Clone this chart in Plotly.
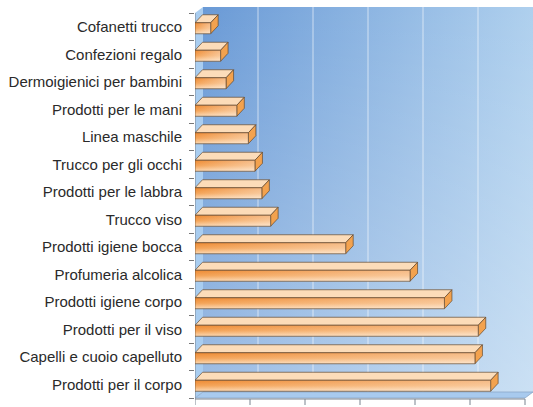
import plotly.graph_objects as go

categories = [
    "Cofanetti trucco", "Confezioni regalo", "Dermoigienici per bambini",
    "Prodotti per le mani", "Linea maschile", "Trucco per gli occhi",
    "Prodotti per le labbra", "Trucco viso", "Prodotti igiene bocca",
    "Profumeria alcolica", "Prodotti igiene corpo", "Prodotti per il viso",
    "Capelli e cuoio capelluto", "Prodotti per il corpo",
]
values = [0.57, 0.93, 1.13, 1.52, 1.94, 2.18, 2.43, 2.75, 5.48, 7.82, 9.07, 10.30, 10.18, 10.75]
x_ticks = [0, 2, 4, 6, 8, 10, 12]

PX = 27.5                      # pixels per data unit (both axes)
wdx, wdy = 8 / PX, 6 / PX      # wall depth
bdx, bdy = 7.5 / PX, 8 / PX    # bar depth
ftop, fbot = -4 / PX, 7 / PX   # front face extent around category centre
n = len(categories)
xmax = x_ticks[-1]
ytop, ybot = -0.5, n - 0.5

fig = go.Figure()

# back wall (gradient)
wall_x = [wdx, xmax + wdx, xmax + wdx, wdx, wdx]
wall_y = [ytop - wdy, ytop - wdy, ybot - wdy, ybot - wdy, ytop - wdy]
fig.add_trace(go.Scatter(x=wall_x, y=wall_y, mode="lines", fill="toself",
                         line=dict(width=0),
                         fillgradient=dict(type="horizontal",
                                           colorscale=[[0, "#6a9ad6"], [1, "#afd0ee"]])))
fig.add_trace(go.Scatter(x=wall_x, y=wall_y, mode="lines", fill="toself",
                         line=dict(width=0),
                         fillgradient=dict(type="vertical", start=ytop - wdy, stop=ybot - wdy,
                                           colorscale=[[0, "rgba(255,255,255,0)"],
                                                       [1, "rgba(255,255,255,0.35)"]])))
# gridlines on back wall
gx, gy = [], []
for t in x_ticks[1:-1]:
    gx += [t + wdx, t + wdx, None]
    gy += [ytop - wdy, ybot - wdy, None]
fig.add_trace(go.Scatter(x=gx, y=gy, mode="lines",
                         line=dict(color="rgba(255,255,255,0.6)", width=1)))
# left wall
fig.add_trace(go.Scatter(x=[0, wdx, wdx, 0, 0], y=[ytop, ytop - wdy, ybot - wdy, ybot, ytop],
                         mode="lines", fill="toself", fillcolor="#a9cdf0",
                         line=dict(width=0)))
# floor
fig.add_trace(go.Scatter(x=[0, xmax, xmax + wdx, wdx, 0],
                         y=[ybot, ybot, ybot - wdy, ybot - wdy, ybot],
                         mode="lines", fill="toself", fillcolor="#a8caee",
                         line=dict(color="#8aa7c8", width=0.8)))
# axis lines and bottom ticks
ax_x, ax_y = [0, 0, xmax, None], [ytop, ybot + 1 / PX, ybot + 1 / PX, None]
for t in x_ticks:
    ax_x += [t, t, None]
    ax_y += [ybot + 1 / PX, ybot + 7 / PX, None]
fig.add_trace(go.Scatter(x=ax_x, y=ax_y, mode="lines", line=dict(color="#7a8490", width=1)))

edge = dict(color="rgba(95,70,45,0.85)", width=0.8)
for i, v in enumerate(values):
    c = i
    t, b = c + ftop, c + fbot
    # top face
    fig.add_trace(go.Scatter(x=[0, v, v + bdx, bdx, 0], y=[t, t, t - bdy, t - bdy, t],
                             mode="lines", fill="toself", fillcolor="#fcdcb9", line=edge))
    # side face
    fig.add_trace(go.Scatter(x=[v, v + bdx, v + bdx, v, v], y=[t, t - bdy, b - bdy, b, t],
                             mode="lines", fill="toself", fillcolor="#f3a24e", line=edge))
    # front face
    fig.add_trace(go.Scatter(x=[0, v, v, 0, 0], y=[t, t, b, b, t],
                             mode="lines", fill="toself", line=dict(width=0),
                             fillgradient=dict(type="vertical", start=t, stop=b,
                                               colorscale=[[0, "#ee8a32"], [0.5, "#f4a458"],
                                                           [1, "#fcd8b2"]])))
    # horizontal light overlay (paler toward the right end)
    fig.add_trace(go.Scatter(x=[0, v, v, 0, 0], y=[t, t, b, b, t],
                             mode="lines", fill="toself", line=edge,
                             fillgradient=dict(type="horizontal", start=0, stop=v,
                                               colorscale=[[0, "rgba(255,255,255,0)"],
                                                           [1, "rgba(255,245,235,0.45)"]])))

yrange = [ybot + 9 / PX, ytop - 13 / PX]
fig.update_layout(
    width=533, height=407,
    margin=dict(l=195, r=0, t=0, b=0),
    paper_bgcolor="white", plot_bgcolor="white",
    showlegend=False, hovermode=False,
    font=dict(family="Liberation Sans, Arial, sans-serif", size=15, color="#2a2a2a"),
    xaxis=dict(range=[0, 338 / PX], showticklabels=False, ticks="", showgrid=False,
               zeroline=False, showline=False, automargin=False),
    yaxis=dict(range=yrange, tickvals=list(range(n)), ticktext=categories,
               ticks="", showgrid=False, zeroline=False, showline=False,
               ticklabelstandoff=12, automargin=False),
    yaxis2=dict(range=yrange, overlaying="y", side="left",
                tickvals=[k - 0.5 for k in range(n + 1)], showticklabels=False,
                ticks="outside", ticklen=5, tickcolor="#777", showgrid=False,
                zeroline=False, showline=False, automargin=False),
)
fig.add_trace(go.Scatter(x=[None], y=[None], yaxis="y2"))
fig.write_html("out.html", config={"displayModeBar": False},
               post_script="document.body.style.margin='0';document.body.style.overflow='hidden';")
